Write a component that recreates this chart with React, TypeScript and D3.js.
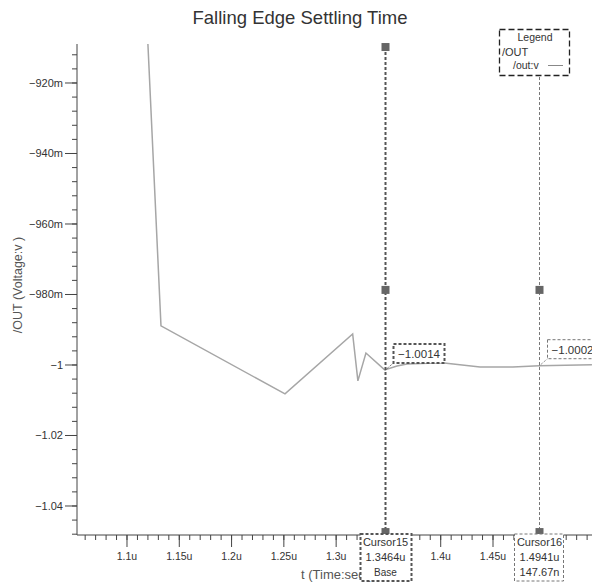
import * as d3 from "d3";

// waveform /OUT (time in µs, volts)
const timeU = [1.1186, 1.1325, 1.2511, 1.3158, 1.3208, 1.3285, 1.3464, 1.3582, 1.3678, 1.4012, 1.4376, 1.469, 1.4941, 1.5446];
const outV = [-0.9, -0.9889, -1.0082, -0.9912, -1.0045, -0.9966, -1.0014, -1.0003, -0.9997, -0.9994, -1.0006, -1.0006, -1.0002, -0.9999];

const xMajorTicks = [1.1, 1.15, 1.2, 1.25, 1.3, 1.35, 1.4, 1.45, 1.5];
const xTickLabels = ["1.1u", "1.15u", "1.2u", "1.25u", "1.3u", "", "1.4u", "1.45u", ""];
const yMajorTicks = [-0.92, -0.94, -0.96, -0.98, -1.0, -1.02, -1.04];
const yTickLabels = ["-920m", "-940m", "-960m", "-980m", "-1", "-1.02", "-1.04"];

// cursors
const cursorNames = ["Cursor15", "Cursor16"];
const cursorTimes = [1.3464, 1.4941];
const cursorValues = [-1.0014, -1.0002];
const cursorLabels = ["1.3464u", "1.4941u"];
const cursorNotes = ["Base", "147.67n"];
const cursorMarkerV = [-0.9098, -0.9787, -1.0474];

const W = 592;
const H = 584;
const left = 77;
const top = 44;
const bottom = 535;

const App = () => {
  const x = d3.scaleLinear().domain([1.05219, 1.54467]).range([left, W]);
  const y = d3.scaleLinear().domain([-0.90894, -1.04823]).range([top, bottom]);

  const line = d3
    .line<number>()
    .x((_, i) => x(timeU[i]))
    .y((d) => y(d));

  const xMinor = d3.range(106, 155).map((v) => v / 100);
  const yMinor = d3.range(-912, -1049, -4).map((v) => v / 1000);
  const minus = (s: string) => s.replace("-", "\u2212");

  return (
    <svg
      width={W}
      height={H}
      style={{ position: "absolute", left: 0, top: 0, background: "#fff" }}
      fontFamily="'Liberation Sans', Arial, sans-serif"
    >
      <defs>
        <clipPath id="plot">
          <rect x={left} y={top} width={W - left} height={bottom - top} />
        </clipPath>
      </defs>

      <text x={300} y={24} textAnchor="middle" fontSize={18.5} fill="#333">
        Falling Edge Settling Time
      </text>

      {/* y axis */}
      <line x1={left} x2={left} y1={top} y2={bottom} stroke="#444" />
      {yMinor.map((v) => (
        <line key={"ym" + v} x1={left - 5} x2={left} y1={y(v)} y2={y(v)} stroke="#444" />
      ))}
      {yMajorTicks.map((v, i) => (
        <g key={"yM" + v}>
          <line x1={left - 12} x2={left} y1={y(v)} y2={y(v)} stroke="#444" />
          <text x={63} y={y(v) + 4} textAnchor="end" fontSize={11} fill="#333">
            {minus(yTickLabels[i])}
          </text>
        </g>
      ))}
      <text
        transform={`translate(22,285) rotate(-90)`}
        textAnchor="middle"
        fontSize={12.5}
        fill="#555"
      >
        /OUT (Voltage:v )
      </text>

      {/* x axis */}
      <line x1={left} x2={W} y1={bottom} y2={bottom} stroke="#444" />
      {xMinor.map((v) => (
        <line key={"xm" + v} x1={x(v)} x2={x(v)} y1={bottom} y2={bottom + 5} stroke="#444" />
      ))}
      {xMajorTicks.map((v, i) => (
        <g key={"xM" + v}>
          <line x1={x(v)} x2={x(v)} y1={bottom} y2={bottom + 12} stroke="#444" />
          <text x={x(v)} y={560} textAnchor="middle" fontSize={10.5} fill="#333">
            {xTickLabels[i]}
          </text>
        </g>
      ))}
      <text x={301} y={579} fontSize={13} fill="#555">
        t (Time:sec )
      </text>

      {/* curve */}
      <path
        d={line(outV) || ""}
        fill="none"
        stroke="#a6a6a6"
        strokeWidth={1.5}
        clipPath="url(#plot)"
      />

      {/* cursors */}
      {cursorTimes.map((t, i) => {
        const cx = Math.round(x(t)) + 0.5;
        const base = i === 0;
        const sw = base ? 2 : 1;
        const dash = "3,2";
        const col = base ? "#555" : "#777";
        const py = y(cursorValues[i]);
        const bx = cx + 8;
        const bw = base ? 51 : 50;
        return (
          <g key={"c" + i}>
            <line x1={cx} x2={cx} y1={y(cursorMarkerV[0])} y2={bottom - 3} stroke={col} strokeWidth={sw} strokeDasharray={dash} />
            {cursorMarkerV.map((mv, j) =>
              base || j > 0 ? (
                <rect key={j} x={cx - 4} y={y(mv) - 4} width={8} height={8} fill="#666" />
              ) : null
            )}
            <line x1={cx} y1={py} x2={bx} y2={py - 7} stroke={col} strokeWidth={1} strokeDasharray="1,1" />
            <rect
              x={bx}
              y={py - 26}
              width={bw}
              height={19}
              fill="#fff"
              stroke={col}
              strokeWidth={sw}
              strokeDasharray={dash}
            />
            <text x={bx + bw / 2} y={py - 12} textAnchor="middle" fontSize={11.5} fill="#333">
              {minus(cursorValues[i].toFixed(4))}
            </text>
            <rect
              x={cx - 25}
              y={bottom - 1}
              width={base ? 51 : 49}
              height={47}
              fill="#fff"
              stroke={col}
              strokeWidth={sw}
              strokeDasharray={dash}
            />
            <text x={cx} y={546} textAnchor="middle" fontSize={11} fill="#333">
              {cursorNames[i]}
            </text>
            <text x={cx} y={561} textAnchor="middle" fontSize={11} fill="#333">
              {cursorLabels[i]}
            </text>
            <text x={cx} y={576} textAnchor="middle" fontSize={base ? 10 : 11} fill="#333">
              {cursorNotes[i]}
            </text>
          </g>
        );
      })}

      {/* legend */}
      <rect x={499.5} y={29.5} width={70} height={46} fill="#fff" stroke="#222" strokeWidth={1.3} strokeDasharray="6,3" />
      <text x={535} y={41} textAnchor="middle" fontSize={10.5} fill="#333">
        Legend
      </text>
      <text x={502} y={56} fontSize={11} fill="#333">
        /OUT
      </text>
      <text x={513} y={69} fontSize={10.5} fill="#333">
        /out:v
      </text>
      <line x1={548} x2={563} y1={65.5} y2={65.5} stroke="#888" />
    </svg>
  );
};

export default App;
